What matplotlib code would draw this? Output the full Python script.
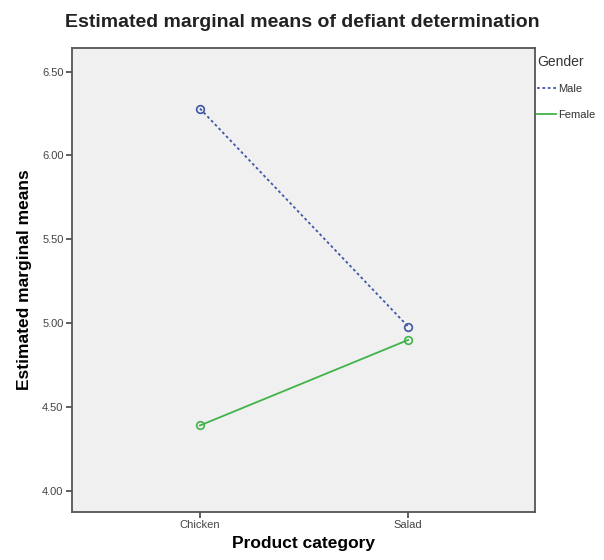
import matplotlib
matplotlib.use("Agg")
import matplotlib.pyplot as plt
from matplotlib import font_manager

# data
categories = ["Chicken", "Salad"]
male_means = [6.28, 4.98]
female_means = [4.39, 4.90]
yticks = [4.00, 4.50, 5.00, 5.50, 6.00, 6.50]

names = [f.name for f in font_manager.fontManager.ttflist]
if "Liberation Sans Narrow" in names:
    plt.rcParams["font.family"] = ["Liberation Sans Narrow", "DejaVu Sans"]
else:
    plt.rcParams["font.family"] = ["Liberation Sans", "DejaVu Sans"]

fig = plt.figure(figsize=(6.04, 5.6), dpi=100)
ax = fig.add_axes([0.119, 0.086, 0.767, 0.828])
ax.set_facecolor("#f0f0f0")

x = list(range(len(categories)))
male_col = "#3d56a6"
female_col = "#3fb449"

ax.plot(x, male_means, linestyle=(0, (1.5, 1.5)), color=male_col, lw=1.3,
        marker="o", markersize=5.5, markerfacecolor="none", markeredgecolor=male_col,
        markeredgewidth=1.2, label="Male")
ax.plot(x, female_means, linestyle="-", color=female_col, lw=1.3,
        marker="o", markersize=5.5, markerfacecolor="none", markeredgecolor=female_col,
        markeredgewidth=1.2, label="Female")

ax.set_xlim(-0.615, 1.61)
ax.set_ylim(3.875, 6.64)
ax.set_xticks(x)
ax.set_xticklabels(categories)
ax.set_yticks(yticks)
ax.set_yticklabels(["%.2f" % v for v in yticks])

for s in ax.spines.values():
    s.set_color("#555555")
    s.set_linewidth(1.3)

ax.tick_params(axis="both", direction="out", length=4, width=1.2, color="#444444",
               labelsize=8, labelcolor="#444444", pad=2)

ax.set_xlabel("Product category", fontsize=12.5, fontweight="bold", labelpad=4)
ax.set_ylabel("Estimated marginal means", fontsize=12.5, fontweight="bold", labelpad=7)
fig.suptitle("Estimated marginal means of defiant determination", fontsize=14,
             fontweight="bold", x=0.5, y=0.975, color="#222222")

leg = ax.legend(title="Gender", loc="upper left", bbox_to_anchor=(0.99, 1.0),
                frameon=False, fontsize=8, title_fontsize=10, handlelength=1.7,
                handletextpad=0.2, labelspacing=1.4, borderaxespad=0.2)
leg._legend_box.align = "left"
for t in leg.get_texts():
    t.set_color("#333333")
leg.get_title().set_color("#333333")
for h in leg.get_lines():
    h.set_marker("")

fig.savefig("out.png", dpi=100)
